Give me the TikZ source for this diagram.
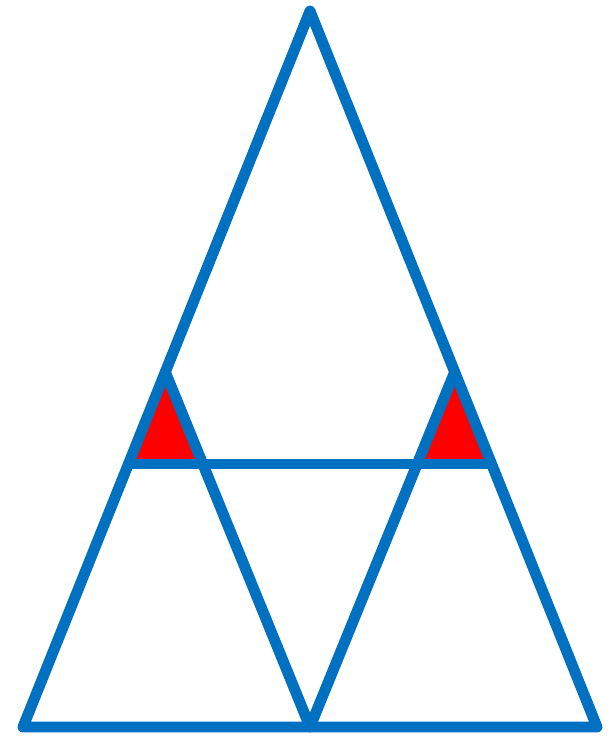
\documentclass[tikz,border=0pt]{standalone}
\usepackage{tikz}
\usetikzlibrary{calc}
\usepackage{xcolor}
\definecolor{edgeblue}{HTML}{0070C0}
\definecolor{hotred}{HTML}{FF0000}

\begin{document}
\begin{tikzpicture}[
    x=0.02cm, y=-0.02cm,
    edge/.style={draw=edgeblue, line width=6.2pt, line cap=round, line join=round},
    patch/.style={fill=hotred, draw=none}
]
\useasboundingbox (0,0) rectangle (613,736);

\coordinate (apex) at (310,11);
\coordinate (bl) at (23,727);
\coordinate (br) at (597,727);
\coordinate (mid) at (310,727);
\coordinate (lt) at (165.3,372);
\coordinate (rt) at (454.7,372);
\coordinate (lo) at (128.4,464);
\coordinate (li) at (202.8,464);
\coordinate (ri) at (417.2,464);
\coordinate (ro) at (491.6,464);

\fill[patch] (lt) -- (lo) -- (li) -- cycle;
\fill[patch] (rt) -- (ri) -- (ro) -- cycle;

\draw[edge] (apex) -- (bl) -- (br) -- cycle;
\draw[edge] (lt) -- (mid) -- (rt);
\draw[edge] (lo) -- (ro);

\end{tikzpicture}
\end{document}
